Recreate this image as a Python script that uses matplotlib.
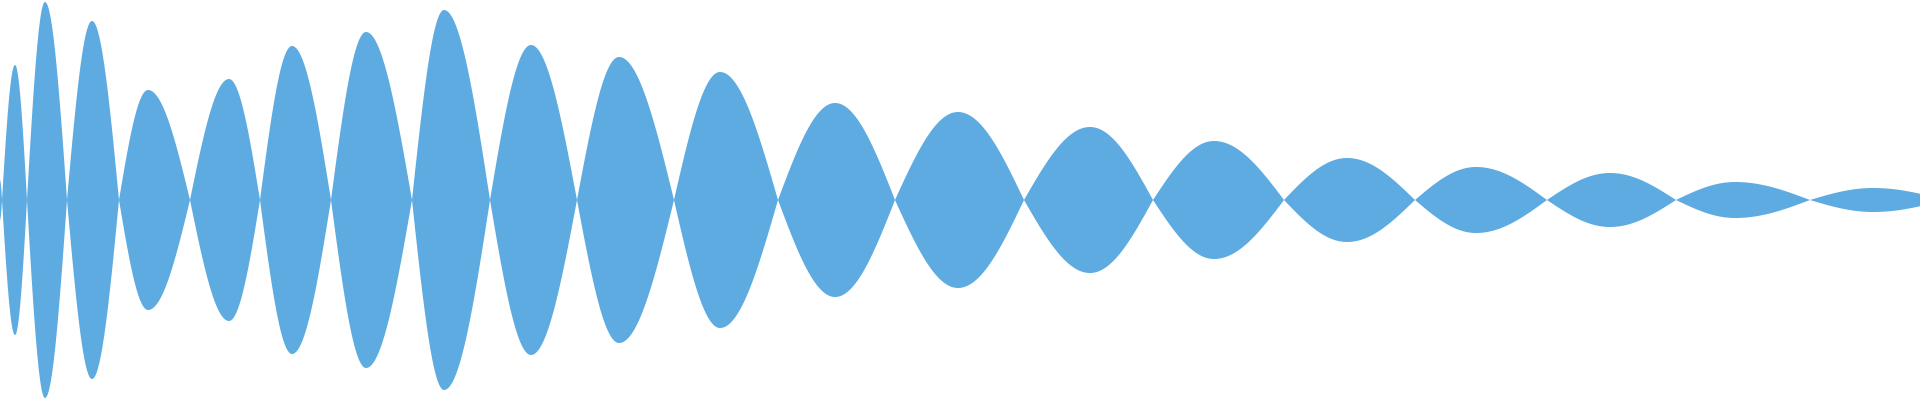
import numpy as np
import matplotlib
matplotlib.use("Agg")
import matplotlib.pyplot as plt

# Zero crossings (boundaries between lobes), peak positions and peak amplitudes
zero_points = [-2, 2, 27, 67, 119, 190, 260, 331, 412, 490, 577, 674, 778, 895,
               1024, 1153, 1284, 1415, 1547, 1676, 1810, 1945]
peak_positions = [0, 15, 45, 92, 148, 229, 292, 366, 444, 531, 619, 720, 835, 958,
                  1090, 1214, 1347, 1476, 1610, 1735, 1873]
peak_amplitudes = [20, 135, 198, 179, 110, 121, 154, 168, 190, 155, 143, 128, 97, 88,
                   73, 59, 42, 33, 27, 18, 12]

color = "#5DABE1"

fig = plt.figure(figsize=(19.2, 4), dpi=100)
ax = fig.add_axes([0, 0, 1, 1])

x = np.linspace(0, 1920, 7681)
env = np.zeros_like(x)
for i, (p, a) in enumerate(zip(peak_positions, peak_amplitudes)):
    z0, z1 = zero_points[i], zero_points[i + 1]
    left = (x >= z0) & (x <= p)
    right = (x > p) & (x <= z1)
    env[left] = a * np.sin(np.pi / 2 * (x[left] - z0) / (p - z0))
    env[right] = a * np.sin(np.pi / 2 * (z1 - x[right]) / (z1 - p))

ax.fill_between(x, -env, env, color=color, linewidth=0)
ax.set_xlim(0, 1920)
ax.set_ylim(-200, 200)
ax.axis("off")
fig.savefig("out.png", dpi=100)
